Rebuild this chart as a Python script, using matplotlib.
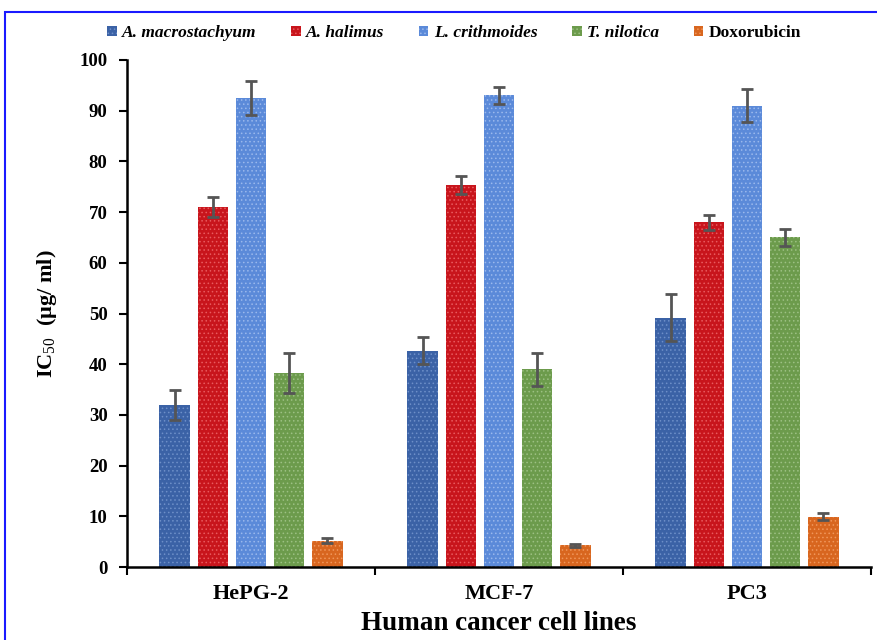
import matplotlib.pyplot as plt
import numpy as np
from matplotlib.patches import Rectangle

plt.rcParams['font.family'] = ['Liberation Serif', 'DejaVu Serif']
plt.rcParams['mathtext.fontset'] = 'custom'
plt.rcParams['mathtext.rm'] = 'Liberation Serif'
plt.rcParams['mathtext.bf'] = 'Liberation Serif:bold'
plt.rcParams['hatch.linewidth'] = 0.6

cell_lines = ['HePG-2', 'MCF-7', 'PC3']
series = ['A. macrostachyum', 'A. halimus', 'L. crithmoides', 'T. nilotica', 'Doxorubicin']
ic50 = {
    'A. macrostachyum': [32.0, 42.7, 49.2],
    'A. halimus': [71.0, 75.4, 68.0],
    'L. crithmoides': [92.5, 93.0, 91.0],
    'T. nilotica': [38.3, 39.0, 65.0],
    'Doxorubicin': [5.2, 4.3, 9.9],
}
err = {
    'A. macrostachyum': [3.0, 2.7, 4.6],
    'A. halimus': [2.0, 1.8, 1.5],
    'L. crithmoides': [3.3, 1.7, 3.2],
    'T. nilotica': [4.0, 3.3, 1.7],
    'Doxorubicin': [0.5, 0.3, 0.7],
}
colors = ['#3b62a6', '#c8151c', '#5b8ad9', '#6c9b4c', '#d8661f']
hatch_colors = ['#6d8fc8', '#e85a5e', '#9ab8ec', '#9cc083', '#f0965a']

fig = plt.figure(figsize=(8.78, 6.4), dpi=100)
ax = fig.add_axes([127/878, 1-567/640, (871-127)/878, (567-60)/640])

x = np.arange(len(cell_lines)) + 0.5
w = 0.122
step = 0.154
for k, name in enumerate(series):
    pos = x + (k - 2) * step
    ax.bar(pos, ic50[name], w, color=colors[k], edgecolor=hatch_colors[k],
           linewidth=0, hatch='....', label=name, zorder=2)
    ax.errorbar(pos, ic50[name], yerr=err[name], fmt='none', ecolor='#555555',
                elinewidth=2, capsize=4, capthick=2, zorder=3)

ax.set_xlim(0, 3)
ax.set_ylim(0, 100)
ax.set_yticks(range(0, 101, 10))
ax.set_xticks([0, 1, 2, 3])
ax.set_xticklabels([])
ax.set_xticks(x, minor=True)
ax.set_xticklabels(cell_lines, minor=True, fontsize=16, fontweight='bold')
ax.tick_params(axis='x', which='minor', length=0, pad=12)
ax.tick_params(axis='x', which='major', length=6, width=1.5, direction='out')
ax.tick_params(axis='y', length=6, width=1.5, direction='out', labelsize=13.5, pad=8)
for lab in ax.get_yticklabels():
    lab.set_fontweight('bold')
for s in ['top', 'right']:
    ax.spines[s].set_visible(False)
for s in ['left', 'bottom']:
    ax.spines[s].set_linewidth(1.8)

ax.set_xlabel('Human cancer cell lines', fontsize=19.5, fontweight='bold', labelpad=5)
ax.set_ylabel(r'IC$_{\mathrm{50}}$  (µg/ ml)', fontsize=16, fontweight='bold', labelpad=15)

handles, labels = ax.get_legend_handles_labels()
leg = fig.legend(handles, labels, loc='center', bbox_to_anchor=(0.517, 1-33/640), ncol=5,
                 frameon=False, handlelength=0.55, handleheight=0.55, handletextpad=0.3,
                 columnspacing=2.0, prop={'family': 'Liberation Serif', 'weight': 'bold', 'size': 12.5})
for t in leg.get_texts():
    if t.get_text() != 'Doxorubicin':
        t.set_style('italic')

fig.patches.append(Rectangle((5/878, -0.1), 2, 1-12/640+0.1, transform=fig.transFigure,
                             fill=False, edgecolor='#1a1aff', linewidth=1.5))

fig.savefig('out.png', dpi=100)
